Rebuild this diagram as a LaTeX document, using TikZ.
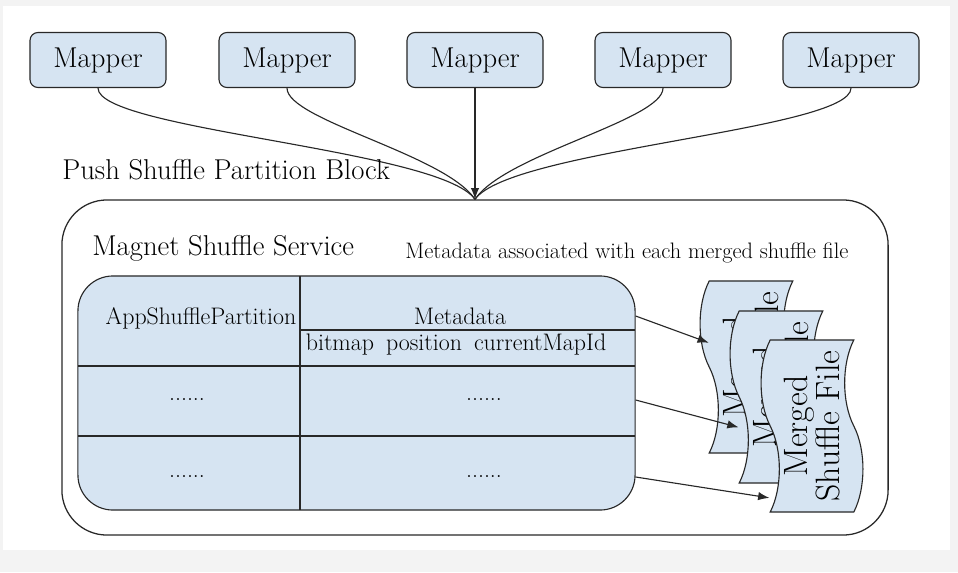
\documentclass[tikz,border=0pt]{standalone}
\usepackage{fontspec}
\usepackage{tikz}
\usetikzlibrary{shapes.symbols}
\usetikzlibrary{calc}
\usetikzlibrary{arrows.meta}
\definecolor{cellblue}{RGB}{214,228,242}
\definecolor{linegray}{RGB}{40,40,40}
\definecolor{pagegray}{RGB}{243,243,243}
\newcommand{\bigfont}{\fontsize{20.4}{24}\selectfont}
\newcommand{\cellfont}{\fontsize{17}{20}\selectfont}
\newcommand{\notefont}{\fontsize{15.9}{19}\selectfont}
\newcommand{\filefont}{\fontsize{24}{21.5}\selectfont}
\tikzset{
  mapper node/.style = {draw=linegray, fill=cellblue, rounded corners=0.2cm,
    minimum width=3.4cm, minimum height=1.375cm, font=\bigfont, line width=0.8pt},
  service node/.style = {draw=linegray, rounded corners=1.125cm,
    minimum width=20.65cm, minimum height=8.375cm, line width=0.9pt},
  table node/.style = {draw=linegray, fill=cellblue, rounded corners=0.875cm,
    minimum width=13.925cm, minimum height=5.85cm, line width=0.8pt},
  file node/.style = {draw=linegray, fill=cellblue, tape, tape bend height=13pt,
    rotate=90, minimum width=4.3cm, minimum height=2.5cm, align=center,
    font=\filefont, line width=0.8pt},
  label node/.style = {inner sep=0pt, anchor=west},
  push line/.style = {draw=linegray, line width=0.8pt},
  cell line/.style = {draw=linegray, line width=0.8pt},
  >={Latex[length=8pt, width=6pt]}
}

\begin{document}
\begin{tikzpicture}[x=0.025cm, y=-0.025cm]
\useasboundingbox (0,0) rectangle (958,572);
\fill[pagegray] (0,0) rectangle (958,572);
\fill[white] (3,6) rectangle (950,550);

\foreach \i/\x in {1/98,2/287,3/475,4/663,5/851}
  \node[mapper node] (m\i) at (\x,60) {Mapper};

\node[service node] (svc) at (475,367.5) {};

\draw[push line] (m1.south) .. controls +(0,42) and +(-35,-50) .. (svc.north);
\draw[push line] (m2.south) .. controls +(0,32) and +(-30,-45) .. (svc.north);
\draw[push line, ->] (m3.south) -- (svc.north);
\draw[push line] (m4.south) .. controls +(0,32) and +(30,-45) .. (svc.north);
\draw[push line] (m5.south) .. controls +(0,42) and +(35,-50) .. (svc.north);

\node[label node, font=\bigfont] (push) at (62,170) {Push Shuffle Partition Block};
\node[label node, font=\bigfont] (mss) at (92,248) {Magnet Shuffle Service};
\node[label node, font=\notefont] (note) at (405,253) {Metadata associated with each merged shuffle file};

\node[table node] (tbl) at (356.5,393) {};
\draw[cell line] (300,276) -- (300,510);
\draw[cell line] (300,330) -- (635,330);
\draw[cell line] (78,366) -- (635,366);
\draw[cell line] (78,436) -- (635,436);

\node[font=\cellfont] (app) at (201,318) {AppShufflePartition};
\node[font=\cellfont] (meta) at (460,316) {Metadata};
\node[font=\cellfont] (fields) at (456,345) {bitmap\hspace{0.5em}position\hspace{0.5em}currentMapId};
\node[font=\cellfont] (a2) at (187,400) {......};
\node[font=\cellfont] (b2) at (484,400) {......};
\node[font=\cellfont] (a3) at (187,477) {......};
\node[font=\cellfont] (b3) at (484,477) {......};

\foreach \i/\x/\y in {1/751/367,2/781/397,3/812/426}
  \node[file node] (d\i) at (\x,\y) {Merged\\Shuffle File};

\draw[push line, ->] (tbl.east |- meta) -- ($(d1.north)!0.28!(d1.north east)$);
\draw[push line, ->] (tbl.east |- b2) -- ($(d2.north)!0.35!(d2.north west)$);
\draw[push line, ->] (tbl.east |- b3) -- ($(d3.north)!0.83!(d3.north west)$);
\end{tikzpicture}
\end{document}
